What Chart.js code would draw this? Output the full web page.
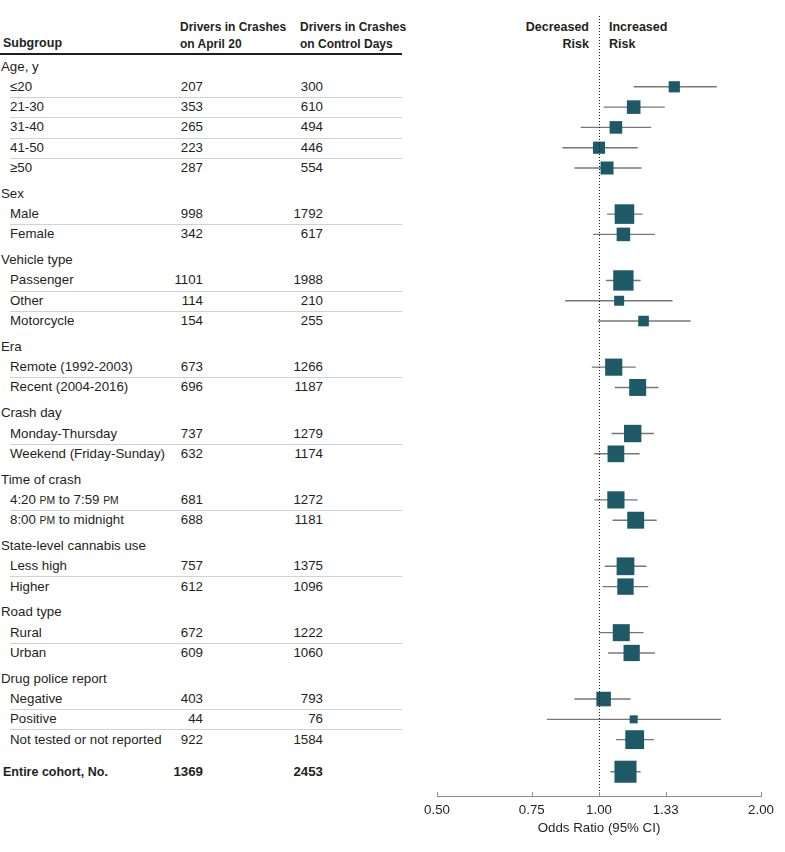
<!DOCTYPE html>
<html>
<head>
<meta charset="utf-8">
<title>April 20 crash risk by subgroup</title>
<script src="https://cdn.jsdelivr.net/npm/chart.js@4.4.1/dist/chart.umd.min.js"></script>
<style>
  body { margin: 0; background: #fff; font-family: "Liberation Sans", Arial, sans-serif; color: #231f20; }
  #page { position: relative; width: 785px; height: 852px; overflow: hidden; }
  #forest { position: absolute; left: 410px; top: 0; }
  .txt { position: absolute; white-space: nowrap; font-size: 13.3px; line-height: 20px; height: 20px; }
  .num { text-align: right; width: 70px; }
  .bold { font-weight: bold; }
  .sep { position: absolute; left: 10px; width: 392px; height: 1px; background: #d2d2d2; }
  .head { position: absolute; font-weight: bold; font-size: 12px; line-height: 16.5px; white-space: nowrap; }
  .sc { font-size: 0.78em; }
  #rule { position: absolute; left: 0; top: 53px; width: 402px; height: 2px; background: #231f20; }
</style>
</head>
<body>
<div id="page">
  <div class="head" style="left:3px; top:35px; font-size:12.5px;">Subgroup</div>
  <div class="head" style="left:180px; top:19px;">Drivers in Crashes<br>on April 20</div>
  <div class="head" style="left:300px; top:19px;">Drivers in Crashes<br>on Control Days</div>
  <div id="rule"></div>
  <div class="head" style="right:196px; top:19px; text-align:right; font-size:12.5px;">Decreased<br>Risk</div>
  <div class="head" style="left:609px; top:19px; font-size:12.5px;">Increased<br>Risk</div>
  <canvas id="forest" width="375" height="852"></canvas>
  <div id="table"></div>
</div>
<script>
// Data
const groupNames = ['Age, y', 'Sex', 'Vehicle type', 'Era', 'Crash day', 'Time of crash',
  'State-level cannabis use', 'Road type', 'Drug police report'];
const groupSizes = [5, 2, 3, 2, 2, 2, 2, 2, 3];
const subgroupLabels = ['≤20', '21-30', '31-40', '41-50', '≥50',
  'Male', 'Female',
  'Passenger', 'Other', 'Motorcycle',
  'Remote (1992-2003)', 'Recent (2004-2016)',
  'Monday-Thursday', 'Weekend (Friday-Sunday)',
  '4:20 PM to 7:59 PM', '8:00 PM to midnight',
  'Less high', 'Higher',
  'Rural', 'Urban',
  'Negative', 'Positive', 'Not tested or not reported',
  'Entire cohort, No.'];
const april20 = [207, 353, 265, 223, 287, 998, 342, 1101, 114, 154, 673, 696, 737, 632,
  681, 688, 757, 612, 672, 609, 403, 44, 922, 1369];
const controlDays = [300, 610, 494, 446, 554, 1792, 617, 1988, 210, 255, 1266, 1187, 1279, 1174,
  1272, 1181, 1375, 1096, 1222, 1060, 793, 76, 1584, 2453];
const oddsRatio = [1.38, 1.16, 1.075, 1.00, 1.035, 1.115, 1.11, 1.11, 1.09, 1.21, 1.065, 1.18,
  1.155, 1.075, 1.075, 1.17, 1.12, 1.12, 1.10, 1.15, 1.02, 1.16, 1.165, 1.12];
const ciLow = [1.16, 1.02, 0.925, 0.855, 0.90, 1.035, 0.975, 1.03, 0.865, 0.995, 0.97, 1.07,
  1.055, 0.98, 0.98, 1.06, 1.025, 1.015, 1.00, 1.04, 0.90, 0.80, 1.075, 1.05];
const ciHigh = [1.655, 1.325, 1.25, 1.18, 1.20, 1.205, 1.27, 1.195, 1.37, 1.48, 1.17, 1.29,
  1.265, 1.19, 1.18, 1.28, 1.225, 1.235, 1.21, 1.27, 1.145, 1.685, 1.265, 1.195];
const tickValues = [0.5, 0.75, 1, 1.33, 2];

// Row layout (row units), first group header sits at ROW_Y0 px
const ROW_Y0 = 66.5;
const ROW_STEP = 20.3;
const GROUP_GAP = 0.27;
const TOTAL_GAP = 1.58;
const MARKER = '#1e5967';

function buildRows() {
  const rows = [];
  let pos = 0, i = 0;
  groupNames.forEach((name, g) => {
    if (g > 0) pos += 1 + GROUP_GAP;
    rows.push({ kind: 'group', label: name, pos: pos });
    for (let k = 0; k < groupSizes[g]; k++) {
      pos += 1;
      rows.push({ kind: 'item', idx: i, pos: pos, last: k === groupSizes[g] - 1 });
      i++;
    }
  });
  pos += TOTAL_GAP;
  rows.push({ kind: 'total', idx: i, pos: pos });
  return rows;
}

const rows = buildRows();
const plotRows = rows.filter(r => r.kind !== 'group');

// marker side grows with the number of drivers in the subgroup
function markerSide(i) {
  return 5 + 0.276 * Math.sqrt(april20[i] + controlDays[i]);
}

const forestDecor = {
  id: 'forestDecor',
  beforeDatasetsDraw(chart) {
    const { ctx, scales: { x, y } } = chart;
    ctx.save();
    ctx.strokeStyle = '#777777';
    ctx.lineWidth = 1.4;
    plotRows.forEach(r => {
      const py = y.getPixelForValue(r.pos);
      ctx.beginPath();
      ctx.moveTo(x.getPixelForValue(ciLow[r.idx]), py);
      ctx.lineTo(x.getPixelForValue(ciHigh[r.idx]), py);
      ctx.stroke();
    });
    ctx.restore();
  },
  afterDatasetsDraw(chart) {
    const { ctx, chartArea, scales: { x } } = chart;
    ctx.save();
    // no-effect line at OR = 1
    const px = Math.round(x.getPixelForValue(1)) + 0.5;
    ctx.strokeStyle = '#1a1a1a';
    ctx.lineWidth = 1;
    ctx.setLineDash([1, 2]);
    ctx.beginPath();
    ctx.moveTo(px, chartArea.top);
    ctx.lineTo(px, chartArea.bottom);
    ctx.stroke();
    // short ticks pointing up from the axis
    ctx.setLineDash([]);
    ctx.strokeStyle = '#8c8c8c';
    x.ticks.forEach(t => {
      const tx = Math.round(x.getPixelForValue(t.value)) + 0.5;
      ctx.beginPath();
      ctx.moveTo(tx, chartArea.bottom - 4);
      ctx.lineTo(tx, chartArea.bottom);
      ctx.stroke();
    });
    ctx.restore();
  }
};

Chart.defaults.font.family = '"Liberation Sans", Arial, sans-serif';
Chart.defaults.color = '#231f20';

const chart = new Chart(document.getElementById('forest'), {
  type: 'scatter',
  data: {
    datasets: [{
      data: plotRows.map(r => ({ x: oddsRatio[r.idx], y: r.pos })),
      pointStyle: 'rect',
      pointRadius: plotRows.map(r => markerSide(r.idx) / Math.SQRT2),
      pointBackgroundColor: MARKER,
      pointBorderWidth: 0,
      borderWidth: 0
    }]
  },
  options: {
    responsive: false,
    animation: false,
    events: [],
    layout: { padding: { left: 27, right: 24, top: 16, bottom: 16 } },
    plugins: { legend: { display: false }, tooltip: { enabled: false } },
    scales: {
      x: {
        type: 'logarithmic',
        min: 0.5,
        max: 2,
        bounds: 'data',
        grid: { display: false, drawTicks: false },
        border: { display: true, color: '#8c8c8c', width: 1 },
        afterBuildTicks: axis => { axis.ticks = tickValues.map(v => ({ value: v })); },
        ticks: {
          autoSkip: false,
          maxRotation: 0,
          padding: 6,
          font: { size: 13.3 },
          callback: v => Number(v).toFixed(2)
        },
        title: {
          display: true,
          text: 'Odds Ratio (95% CI)',
          font: { size: 13.3 },
          padding: { top: -4, bottom: 0 }
        }
      },
      y: { type: 'linear', reverse: true, display: false, bounds: 'data', min: -2.5, max: 36 }
    }
  },
  plugins: [forestDecor]
});

// fit the row scale so one row unit is ROW_STEP px on the page
const area = chart.chartArea;
chart.options.scales.y.min = (area.top - ROW_Y0) / ROW_STEP;
chart.options.scales.y.max = chart.options.scales.y.min + (area.bottom - area.top) / ROW_STEP;
chart.update('none');

// left-hand table, placed on the same row scale
const table = document.getElementById('table');
const yScale = chart.scales.y;

function addText(html, left, cy, cls) {
  const d = document.createElement('div');
  d.className = 'txt' + (cls ? ' ' + cls : '');
  d.style.left = left + 'px';
  d.style.top = (cy - 10) + 'px';
  d.innerHTML = html;
  table.appendChild(d);
}

function labelHtml(s) {
  return s.replace(/(PM)/g, '<span class="sc">$1</span>');
}

rows.forEach(r => {
  const cy = yScale.getPixelForValue(r.pos);
  if (r.kind === 'group') {
    addText(r.label, 1, cy);
    return;
  }
  const isTotal = r.kind === 'total';
  if (isTotal) {
    const d = document.createElement('div');
    d.className = 'txt bold';
    d.style.left = '3px';
    d.style.top = (cy - 10) + 'px';
    d.style.fontSize = '12.5px';
    d.textContent = subgroupLabels[r.idx];
    table.appendChild(d);
  } else {
    addText(labelHtml(subgroupLabels[r.idx]), 10, cy);
  }
  addText(String(april20[r.idx]), 133, cy, 'num' + (isTotal ? ' bold' : ''));
  addText(String(controlDays[r.idx]), 253, cy, 'num' + (isTotal ? ' bold' : ''));
  if (r.kind === 'item' && !r.last) {
    const s = document.createElement('div');
    s.className = 'sep';
    s.style.top = Math.round((cy + yScale.getPixelForValue(r.pos + 1)) / 2) + 'px';
    table.appendChild(s);
  }
});
</script>
</body>
</html>
